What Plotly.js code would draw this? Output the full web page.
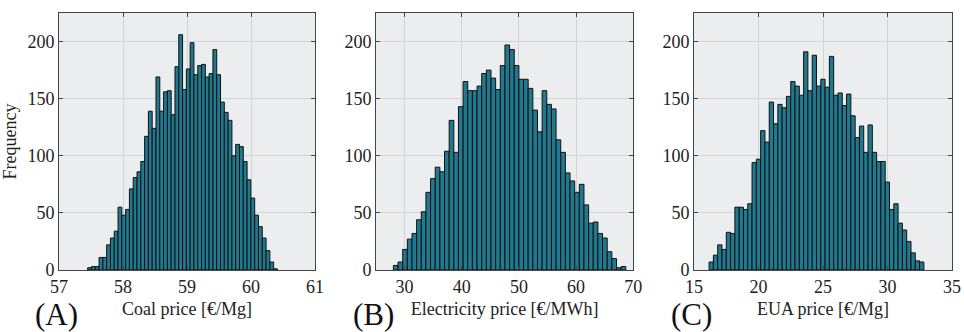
<!DOCTYPE html>
<html>
<head>
<meta charset="utf-8">
<script src="https://cdn.plot.ly/plotly-3.0.1.min.js"></script>
<style>html,body{margin:0;padding:0;background:#fff;}#chart{width:964px;height:332px;}</style>
</head>
<body>
<div id="chart"></div>
<script>
// Panel A: Coal price [€/Mg]
const coalBinStart = 57.448;
const coalBinWidth = 0.0593;
const coalCounts = [2,3,3,11,11,22,28,34,55,48,
  53,71,81,86,95,117,139,124,169,139,
  156,157,136,178,206,158,176,199,171,179,
  180,169,172,193,171,147,138,131,100,110,
  108,95,79,63,48,38,28,17,7,1];

// Panel B: Electricity price [€/MWh]
const elecBinStart = 28.04;
const elecBinWidth = 0.813;
const elecCounts = [4,7,18,27,32,44,51,68,80,90,
  86,104,131,103,143,165,157,157,161,172,
  175,168,158,179,197,193,179,167,167,159,
  140,121,157,145,141,114,103,85,78,68,
  75,57,41,42,32,28,16,10,2,3];

// Panel C: EUA price [€/Mg]
const euaBinStart = 16.17;
const euaBinWidth = 0.333;
const euaCounts = [7,13,22,18,33,32,55,55,53,58,
  94,97,122,112,147,128,145,142,152,165,
  161,153,191,157,188,161,167,160,187,153,
  155,144,154,135,116,126,103,127,103,95,
  95,77,53,58,41,35,25,15,8,7];

const xTitles = ["Coal price [€/Mg]", "Electricity price [€/MWh]", "EUA price [€/Mg]"];
const xTickVals = [[57,58,59,60,61],[30,40,50,60,70],[15,20,25,30,35]];
const xRanges = [[57,61],[25,70],[15,35]];
const yTickVals = [0,50,100,150,200];
const panelLabels = ["(A)","(B)","(C)"];
const yTitle = "Frequency";

const barColor = "#20798f";
const font = "'Liberation Serif', 'Times New Roman', serif";

function centers(start, w, counts){ return counts.map((_, i) => start + w*(i+0.5)); }

const sets = [
  [coalBinStart, coalBinWidth, coalCounts],
  [elecBinStart, elecBinWidth, elecCounts],
  [euaBinStart, euaBinWidth, euaCounts]
];

const traces = sets.map((s, i) => ({
  type: "bar",
  x: centers(s[0], s[1], s[2]),
  y: s[2],
  width: s[1],
  xaxis: i === 0 ? "x" : "x" + (i+1),
  yaxis: i === 0 ? "y" : "y" + (i+1),
  marker: {color: barColor, line: {color: "#111", width: 1}},
  hoverinfo: "x+y",
  showlegend: false
}));

const domains = [[0, 0.2867], [0.355, 0.6431], [0.7111, 1]];

const layout = {
  width: 964, height: 332,
  margin: {l: 59, r: 12, t: 13, b: 62},
  paper_bgcolor: "#ffffff",
  plot_bgcolor: "#ebedef",
  bargap: 0,
  font: {family: font, size: 18, color: "#222"},
  annotations: []
};

for (let i = 0; i < 3; i++) {
  const sx = i === 0 ? "" : String(i+1);
  layout["xaxis" + sx] = {
    domain: domains[i],
    anchor: "y" + sx,
    range: xRanges[i],
    tickvals: xTickVals[i],
    ticks: "inside", ticklen: 4, tickcolor: "#444",
    showline: true, linecolor: "#444", linewidth: 1, mirror: "ticks",
    showgrid: true, gridcolor: "#d2d3d4", gridwidth: 1,
    zeroline: false,
    tickfont: {family: font, size: 18, color: "#222"},
    title: {text: xTitles[i], font: {family: font, size: 18, color: "#222"}, standoff: 6}
  };
  layout["yaxis" + sx] = {
    anchor: "x" + sx,
    range: [0, 225],
    tickvals: yTickVals,
    ticks: "inside", ticklen: 4, tickcolor: "#444",
    showline: true, linecolor: "#444", linewidth: 1, mirror: "ticks",
    showgrid: true, gridcolor: "#d2d3d4", gridwidth: 1,
    zeroline: false,
    tickfont: {family: font, size: 18, color: "#222"},
    title: i === 0 ? {text: yTitle, font: {family: font, size: 18, color: "#222"}, standoff: 6} : {text: ""}
  };
  layout.annotations.push({
    text: panelLabels[i],
    xref: "paper", yref: "paper",
    x: domains[i][0], y: 0,
    xshift: -3, yshift: -44,
    xanchor: "center", yanchor: "middle",
    showarrow: false,
    font: {family: font, size: 31, color: "#111"}
  });
}

Plotly.newPlot("chart", traces, layout, {displayModeBar: false, staticPlot: true});
</script>
</body>
</html>
